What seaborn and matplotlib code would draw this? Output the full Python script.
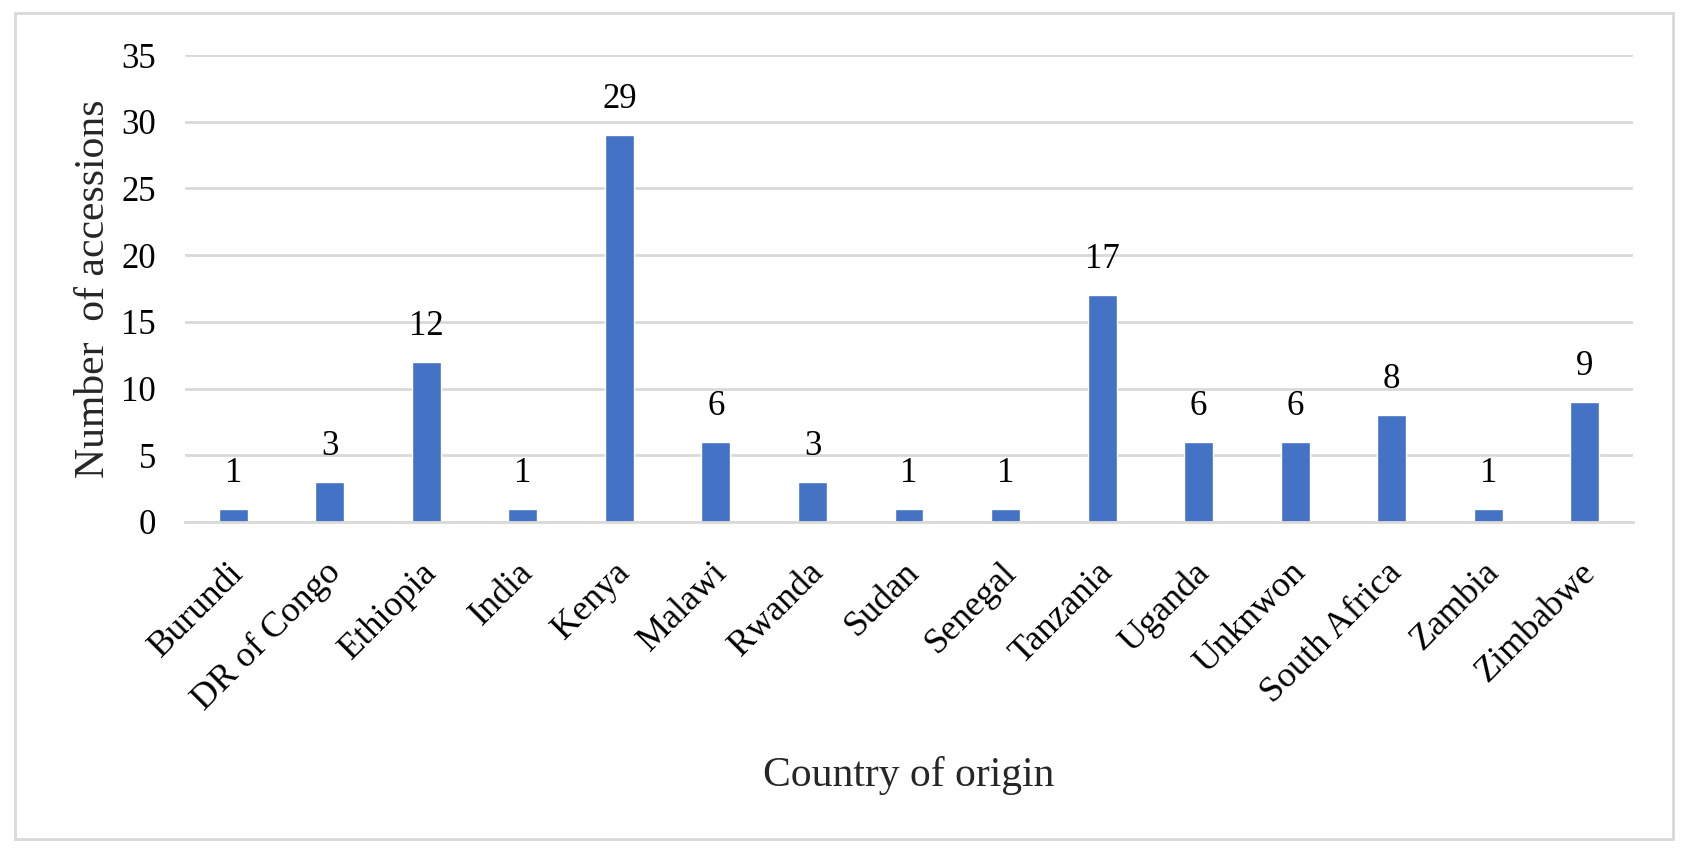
import matplotlib
matplotlib.use("Agg")
import matplotlib.pyplot as plt
import matplotlib.transforms as mtransforms
import seaborn as sns
import pandas as pd
from matplotlib.patches import Rectangle

# Data
countries = ['Burundi', 'DR of Congo', 'Ethiopia', 'India', 'Kenya', 'Malawi', 'Rwanda',
             'Sudan', 'Senegal', 'Tanzania', 'Uganda', 'Unknwon', 'South Africa',
             'Zambia', 'Zimbabwe']
accessions = [1, 3, 12, 1, 29, 6, 3, 1, 1, 17, 6, 6, 8, 1, 9]
y_ticks = [0, 5, 10, 15, 20, 25, 30, 35]

df = pd.DataFrame({'Country': countries, 'Accessions': accessions})

sns.set_style('white')
plt.rcParams['font.family'] = ['Liberation Serif', 'DejaVu Serif']

W, H = 1688, 855
fig = plt.figure(figsize=(W / 100, H / 100), dpi=100)
ax = fig.add_axes([185 / W, 1 - 522 / H, (1633 - 185) / W, (522 - 55) / H])

sns.barplot(data=df, x='Country', y='Accessions', color='#4472C4', saturation=1,
            width=0.30, ax=ax)

ax.set_ylim(0, 35)
ax.set_yticks(y_ticks)
ax.set_xlim(-0.5, len(countries) - 0.5)
ax.grid(axis='y', color='#D9D9D9', linewidth=2)
ax.set_axisbelow(True)
for side in ['top', 'right', 'left']:
    ax.spines[side].set_visible(False)
ax.spines['bottom'].set_color('#D9D9D9')
ax.spines['bottom'].set_linewidth(2)
ax.tick_params(axis='both', length=0, labelsize=25, colors='black')
ax.tick_params(axis='y', pad=21)
ax.tick_params(axis='x', pad=0, labelsize=26)

# rotated category labels, shifted a little down and left
shift = mtransforms.ScaledTranslation(-6 / 100, -34 / 100, fig.dpi_scale_trans)
for lbl in ax.get_xticklabels():
    lbl.set_rotation(45)
    lbl.set_ha('right')
    lbl.set_va('top')
    lbl.set_rotation_mode('anchor')
    lbl.set_transform(lbl.get_transform() + shift)

# value labels above each bar
for p, v in zip(ax.patches, accessions):
    ax.annotate(str(v), (p.get_x() + p.get_width() / 2, p.get_height()),
                xytext=(0, 27), textcoords='offset pixels',
                ha='center', va='baseline', fontsize=25, color='black')

ax.set_xlabel('Country of origin', fontsize=30)
ax.xaxis.set_label_coords(0.5, -0.50)
ax.set_ylabel('Number  of accessions', fontsize=30)
ax.yaxis.set_label_coords(-0.050, 0.5)

# light grey frame around the chart
fig.patches.append(Rectangle((15 / W, 1 - 839 / H), (1673 - 15) / W, (839 - 13) / H,
                             transform=fig.transFigure, fill=False,
                             edgecolor='#D9D9D9', linewidth=2))

fig.savefig('out.png', dpi=100)
plt.close(fig)
